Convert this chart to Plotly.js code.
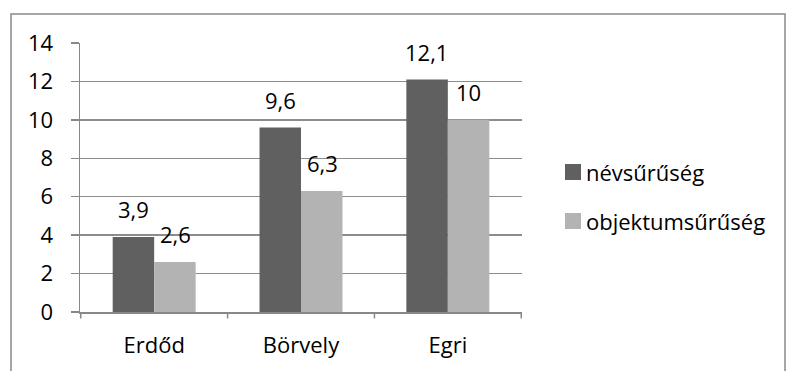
<!DOCTYPE html>
<html>
<head>
<meta charset="utf-8">
<script src="https://cdn.plot.ly/plotly-3.0.1.min.js"></script>
<style>html,body{margin:0;padding:0;background:#fff;}</style>
</head>
<body>
<div id="chart" style="width:786px;height:371px;"></div>
<script>
const categories = ["Erdőd", "Börvely", "Egri"];
const seriesNames = ["névsűrűség", "objektumsűrűség"];
const nevsuruseg = [3.9, 9.6, 12.1];
const objektumsuruseg = [2.6, 6.3, 10];
const yTicks = [0, 2, 4, 6, 8, 10, 12, 14];

const FONT = "Open Sans, Noto Sans, sans-serif";
const fontSize = 22;
const colors = ["#606060", "#b3b3b3"];
const seriesValues = [nevsuruseg, objektumsuruseg];

const W = 786, H = 371;
const M = {l: 80, r: 264, t: 43, b: 59};
const PW = W - M.l - M.r, PH = H - M.t - M.b;
const px = x => (x - M.l) / PW;
const py = y => (H - M.b - y) / PH;

const traces = seriesValues.map((vals, i) => ({
  type: "bar", name: seriesNames[i], x: categories, y: vals,
  marker: {color: colors[i]}, showlegend: false
}));

const fmt = v => String(v).replace(".", ",");
const annotations = [];
seriesValues.forEach((vals, i) => {
  vals.forEach((v, j) => {
    annotations.push({
      x: categories[j], y: v, xref: "x", yref: "y",
      text: fmt(v), showarrow: false,
      xanchor: "center", yanchor: "middle",
      xshift: i === 0 ? -21 : 21, yshift: 28,
      font: {family: FONT, size: fontSize, color: "#000"}
    });
  });
});

// legend (manual)
const legendRows = [172, 221];
const legendShapes = [];
seriesNames.forEach((name, i) => {
  const cy = legendRows[i];
  legendShapes.push({
    type: "rect", xref: "paper", yref: "paper",
    x0: px(565), x1: px(581), y0: py(cy + 8), y1: py(cy - 8),
    line: {width: 0}, fillcolor: colors[i]
  });
  annotations.push({
    xref: "paper", yref: "paper", x: px(584), y: py(cy),
    xanchor: "left", yanchor: "middle", showarrow: false, text: name,
    font: {family: FONT, size: fontSize, color: "#000"}
  });
});

const tickShapes = [-0.5, 0.5, 1.5, 2.5].map(p => ({
  type: "line", xref: "x", yref: "paper", x0: p, x1: p, y0: 0, y1: -0.024,
  line: {color: "#888", width: 1.5}
}));

const layout = {
  width: W, height: H,
  margin: {l: M.l, r: M.r, t: M.t, b: M.b, pad: 0},
  separators: ", ",
  paper_bgcolor: "#fff", plot_bgcolor: "#fff",
  font: {family: FONT, size: fontSize, color: "#000"},
  barmode: "group", bargap: 0.435, bargroupgap: 0,
  xaxis: {
    showgrid: false, showline: true, linecolor: "#888", linewidth: 1.5,
    ticks: "", ticklabelstandoff: 13,
    tickfont: {family: FONT, size: fontSize, color: "#000"},
    fixedrange: true
  },
  yaxis: {
    range: [0, 14], tickvals: yTicks, ticktext: yTicks.map(String),
    showgrid: true, gridcolor: "#8c8c8c", gridwidth: 1.5,
    showline: true, linecolor: "#888", linewidth: 1.5,
    ticks: "outside", ticklen: 8, tickcolor: "#888", tickwidth: 1.5,
    ticklabelstandoff: 13,
    zeroline: false,
    tickfont: {family: FONT, size: fontSize, color: "#000"},
    fixedrange: true
  },
  showlegend: false,
  annotations: annotations,
  shapes: [
    {type: "rect", xref: "paper", yref: "paper",
     x0: px(11), x1: px(785), y0: py(380), y1: py(14),
     line: {color: "#888", width: 1.5}, fillcolor: "rgba(0,0,0,0)", layer: "below"}
  ].concat(tickShapes, legendShapes)
};

Plotly.newPlot("chart", traces, layout, {displayModeBar: false, staticPlot: true});
</script>
</body>
</html>
